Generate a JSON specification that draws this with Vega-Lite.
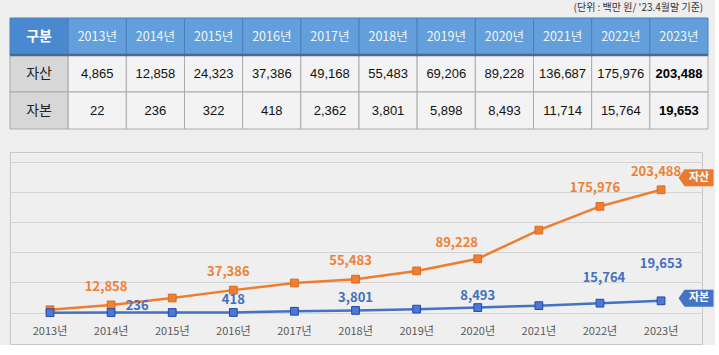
{
  "$schema": "https://vega.github.io/schema/vega-lite/v6.json",
  "background": "#eeeeee",
  "padding": {"left": 8, "top": 2, "right": 0, "bottom": 0},
  "autosize": {"type": "pad"},
  "spacing": 21,
  "config": {"view": {"stroke": null}, "font": "Noto Sans CJK KR"},
  "datasets": {
    "d": [
      {"year": 2013, "yearLabel": "2013년", "series": "자산", "value": 4865},
      {"year": 2014, "yearLabel": "2014년", "series": "자산", "value": 12858},
      {"year": 2015, "yearLabel": "2015년", "series": "자산", "value": 24323},
      {"year": 2016, "yearLabel": "2016년", "series": "자산", "value": 37386},
      {"year": 2017, "yearLabel": "2017년", "series": "자산", "value": 49168},
      {"year": 2018, "yearLabel": "2018년", "series": "자산", "value": 55483},
      {"year": 2019, "yearLabel": "2019년", "series": "자산", "value": 69206},
      {"year": 2020, "yearLabel": "2020년", "series": "자산", "value": 89228},
      {"year": 2021, "yearLabel": "2021년", "series": "자산", "value": 136687},
      {"year": 2022, "yearLabel": "2022년", "series": "자산", "value": 175976},
      {"year": 2023, "yearLabel": "2023년", "series": "자산", "value": 203488},
      {"year": 2013, "yearLabel": "2013년", "series": "자본", "value": 22},
      {"year": 2014, "yearLabel": "2014년", "series": "자본", "value": 236},
      {"year": 2015, "yearLabel": "2015년", "series": "자본", "value": 322},
      {"year": 2016, "yearLabel": "2016년", "series": "자본", "value": 418},
      {"year": 2017, "yearLabel": "2017년", "series": "자본", "value": 2362},
      {"year": 2018, "yearLabel": "2018년", "series": "자본", "value": 3801},
      {"year": 2019, "yearLabel": "2019년", "series": "자본", "value": 5898},
      {"year": 2020, "yearLabel": "2020년", "series": "자본", "value": 8493},
      {"year": 2021, "yearLabel": "2021년", "series": "자본", "value": 11714},
      {"year": 2022, "yearLabel": "2022년", "series": "자본", "value": 15764},
      {"year": 2023, "yearLabel": "2023년", "series": "자본", "value": 19653}
    ],
    "cols": [
      {"yearLabel": "구분"}, {"yearLabel": "2013년"}, {"yearLabel": "2014년"}, {"yearLabel": "2015년"},
      {"yearLabel": "2016년"}, {"yearLabel": "2017년"}, {"yearLabel": "2018년"}, {"yearLabel": "2019년"},
      {"yearLabel": "2020년"}, {"yearLabel": "2021년"}, {"yearLabel": "2022년"}, {"yearLabel": "2023년"}
    ],
    "rows": [{"series": "자산"}, {"series": "자본"}]
  },
  "vconcat": [
    {
      "width": 698,
      "height": 111,
      "title": {"text": "(단위 : 백만 원/ '23.4월말 기준)", "anchor": "end", "fontSize": 10, "fontWeight": "normal", "color": "#333333", "dx": -6, "offset": 5, "font": "Noto Sans CJK KR"},
      "layer": [
        {
          "data": {"name": "cols"},
          "mark": {"type": "rect", "stroke": "#4a7fbd", "strokeWidth": 1},
          "encoding": {
            "x": {"field": "yearLabel", "type": "nominal", "axis": null, "scale": {"domain": ["구분","2013년","2014년","2015년","2016년","2017년","2018년","2019년","2020년","2021년","2022년","2023년"], "paddingInner": 0, "paddingOuter": 0}},
            "y": {"datum": "구분", "type": "nominal", "axis": null, "scale": {"domain": ["구분","자산","자본"], "paddingInner": 0, "paddingOuter": 0}},
            "fill": {"condition": {"test": "datum.yearLabel === '구분'", "value": "#4a89cf"}, "value": "#63a0db"}
          }
        },
        {
          "data": {"name": "rows"},
          "mark": {"type": "rect", "fill": "#d7d7d7", "stroke": "#ababab", "strokeWidth": 1},
          "encoding": {
            "x": {"datum": "구분", "type": "nominal", "axis": null, "scale": {"domain": ["구분","2013년","2014년","2015년","2016년","2017년","2018년","2019년","2020년","2021년","2022년","2023년"], "paddingInner": 0, "paddingOuter": 0}},
            "y": {"field": "series", "type": "nominal", "axis": null, "scale": {"domain": ["구분","자산","자본"], "paddingInner": 0, "paddingOuter": 0}}
          }
        },
        {
          "data": {"name": "d"},
          "mark": {"type": "rect", "fill": "#f3f3f3", "stroke": "#ababab", "strokeWidth": 1},
          "encoding": {
            "x": {"field": "yearLabel", "type": "nominal", "axis": null, "scale": {"domain": ["구분","2013년","2014년","2015년","2016년","2017년","2018년","2019년","2020년","2021년","2022년","2023년"], "paddingInner": 0, "paddingOuter": 0}},
            "y": {"field": "series", "type": "nominal", "axis": null, "scale": {"domain": ["구분","자산","자본"], "paddingInner": 0, "paddingOuter": 0}}
          }
        },
        {
          "data": {"values": [{}]},
          "mark": {"type": "rule", "color": "#4a6a8e", "strokeWidth": 2.5},
          "encoding": {
            "y": {"datum": "자산", "type": "nominal", "bandPosition": 0, "axis": null, "scale": {"domain": ["구분","자산","자본"], "paddingInner": 0, "paddingOuter": 0}}
          }
        },
        {
          "data": {"name": "cols"},
          "transform": [{"filter": "datum.yearLabel === '구분'"}],
          "mark": {"type": "text", "color": "#ffffff", "fontSize": 14, "fontWeight": "bold", "font": "Noto Sans CJK KR"},
          "encoding": {
            "x": {"field": "yearLabel", "type": "nominal", "axis": null, "scale": {"domain": ["구분","2013년","2014년","2015년","2016년","2017년","2018년","2019년","2020년","2021년","2022년","2023년"], "paddingInner": 0, "paddingOuter": 0}},
            "y": {"datum": "구분", "type": "nominal", "axis": null, "scale": {"domain": ["구분","자산","자본"], "paddingInner": 0, "paddingOuter": 0}},
            "text": {"field": "yearLabel"}
          }
        },
        {
          "data": {"name": "cols"},
          "transform": [{"filter": "datum.yearLabel !== '구분'"}],
          "mark": {"type": "text", "color": "#eef4fb", "fontSize": 12.5, "font": "Noto Sans CJK KR"},
          "encoding": {
            "x": {"field": "yearLabel", "type": "nominal", "axis": null, "scale": {"domain": ["구분","2013년","2014년","2015년","2016년","2017년","2018년","2019년","2020년","2021년","2022년","2023년"], "paddingInner": 0, "paddingOuter": 0}},
            "y": {"datum": "구분", "type": "nominal", "axis": null, "scale": {"domain": ["구분","자산","자본"], "paddingInner": 0, "paddingOuter": 0}},
            "text": {"field": "yearLabel"}
          }
        },
        {
          "data": {"name": "rows"},
          "mark": {"type": "text", "color": "#222222", "fontSize": 14, "font": "Noto Sans CJK KR"},
          "encoding": {
            "x": {"datum": "구분", "type": "nominal", "axis": null, "scale": {"domain": ["구분","2013년","2014년","2015년","2016년","2017년","2018년","2019년","2020년","2021년","2022년","2023년"], "paddingInner": 0, "paddingOuter": 0}},
            "y": {"field": "series", "type": "nominal", "axis": null, "scale": {"domain": ["구분","자산","자본"], "paddingInner": 0, "paddingOuter": 0}},
            "text": {"field": "series"}
          }
        },
        {
          "data": {"name": "d"},
          "transform": [{"filter": "datum.year < 2023"}],
          "mark": {"type": "text", "color": "#111111", "fontSize": 13, "font": "Liberation Sans"},
          "encoding": {
            "x": {"field": "yearLabel", "type": "nominal", "axis": null, "scale": {"domain": ["구분","2013년","2014년","2015년","2016년","2017년","2018년","2019년","2020년","2021년","2022년","2023년"], "paddingInner": 0, "paddingOuter": 0}},
            "y": {"field": "series", "type": "nominal", "axis": null, "scale": {"domain": ["구분","자산","자본"], "paddingInner": 0, "paddingOuter": 0}},
            "text": {"field": "value", "type": "quantitative", "format": ","}
          }
        },
        {
          "data": {"name": "d"},
          "transform": [{"filter": "datum.year === 2023"}],
          "mark": {"type": "text", "color": "#000000", "fontSize": 13, "fontWeight": "bold", "font": "Liberation Sans"},
          "encoding": {
            "x": {"field": "yearLabel", "type": "nominal", "axis": null, "scale": {"domain": ["구분","2013년","2014년","2015년","2016년","2017년","2018년","2019년","2020년","2021년","2022년","2023년"], "paddingInner": 0, "paddingOuter": 0}},
            "y": {"field": "series", "type": "nominal", "axis": null, "scale": {"domain": ["구분","자산","자본"], "paddingInner": 0, "paddingOuter": 0}},
            "text": {"field": "value", "type": "quantitative", "format": ","}
          }
        }
      ]
    },
    {
      "width": 692,
      "height": 192,
      "view": {"stroke": "#c8c8c8", "strokeWidth": 1, "fill": "#efefef"},
      "data": {"name": "d"},
      "encoding": {
        "x": {"field": "year", "type": "quantitative", "scale": {"domain": [2012.345, 2023.67], "nice": false, "zero": false}, "axis": null},
        "y": {"field": "value", "type": "quantitative", "scale": {"domain": [-51800, 266000], "nice": false, "zero": false},
          "axis": {"values": [0, 50000, 100000, 150000, 200000, 250000], "grid": true, "gridColor": "#d4d4d4", "gridWidth": 1, "labels": false, "ticks": false, "domain": false, "title": null}}
      },
      "layer": [
        {
          "transform": [{"filter": "datum.series === '자산'"}],
          "mark": {"type": "text", "color": "#595959", "fontSize": 11, "font": "Noto Sans CJK KR"},
          "encoding": {
            "y": {"datum": -32000, "type": "quantitative"},
            "text": {"field": "yearLabel"}
          }
        },
        {
          "mark": {"type": "line", "strokeWidth": 2.5},
          "encoding": {
            "color": {"field": "series", "type": "nominal", "scale": {"domain": ["자산", "자본"], "range": ["#ed7d31", "#4472c4"]}, "legend": null}
          }
        },
        {
          "mark": {"type": "point", "shape": "square", "filled": true, "size": 60, "strokeWidth": 1, "opacity": 1},
          "encoding": {
            "fill": {"field": "series", "type": "nominal", "scale": {"domain": ["자산", "자본"], "range": ["#ee7f33", "#4d79d6"]}, "legend": null},
            "stroke": {"field": "series", "type": "nominal", "scale": {"domain": ["자산", "자본"], "range": ["#d96a1e", "#2447a3"]}, "legend": null}
          }
        },
        {
          "transform": [{"filter": "datum.series === '자산' && (datum.year === 2014 || datum.year === 2016 || datum.year === 2018 || datum.year === 2022 || datum.year === 2023)"}],
          "mark": {"type": "text", "color": "#ee8036", "fontSize": 13, "fontWeight": "bold", "dx": -5, "dy": -18},
          "encoding": {"text": {"field": "value", "type": "quantitative", "format": ","}}
        },
        {
          "transform": [{"filter": "datum.series === '자산' && datum.year === 2020"}],
          "mark": {"type": "text", "color": "#ee8036", "fontSize": 13, "fontWeight": "bold", "dx": -21, "dy": -16},
          "encoding": {"text": {"field": "value", "type": "quantitative", "format": ","}}
        },
        {
          "transform": [{"filter": "datum.series === '자본' && (datum.year === 2016 || datum.year === 2018 || datum.year === 2020)"}],
          "mark": {"type": "text", "color": "#4170c0", "fontSize": 13, "fontWeight": "bold", "dy": -12},
          "encoding": {"text": {"field": "value", "type": "quantitative", "format": ","}}
        },
        {
          "transform": [{"filter": "datum.series === '자본' && datum.year === 2014"}],
          "mark": {"type": "text", "color": "#4170c0", "fontSize": 13, "fontWeight": "bold", "dx": 26, "dy": -7},
          "encoding": {"text": {"field": "value", "type": "quantitative", "format": ","}}
        },
        {
          "transform": [{"filter": "datum.series === '자본' && datum.year === 2022"}],
          "mark": {"type": "text", "color": "#4170c0", "fontSize": 13, "fontWeight": "bold", "dx": 4, "dy": -25},
          "encoding": {"text": {"field": "value", "type": "quantitative", "format": ","}}
        },
        {
          "transform": [{"filter": "datum.series === '자본' && datum.year === 2023"}],
          "mark": {"type": "text", "color": "#4170c0", "fontSize": 13, "fontWeight": "bold", "dy": -37},
          "encoding": {"text": {"field": "value", "type": "quantitative", "format": ","}}
        },
        {
          "transform": [{"filter": "datum.series === '자산' && datum.year === 2023"}],
          "mark": {"type": "point", "shape": "M -1 0 L -0.66 -0.486 L 1 -0.486 L 1 0.486 L -0.66 0.486 Z", "size": 1225, "filled": true, "color": "#e97b2f", "opacity": 1, "xOffset": 35, "yOffset": -12}
        },
        {
          "transform": [{"filter": "datum.series === '자본' && datum.year === 2023"}],
          "mark": {"type": "point", "shape": "M -1 0 L -0.66 -0.486 L 1 -0.486 L 1 0.486 L -0.66 0.486 Z", "size": 1225, "filled": true, "color": "#4472c4", "opacity": 1, "xOffset": 35, "yOffset": -2.6}
        },
        {
          "transform": [{"filter": "datum.series === '자산' && datum.year === 2023"}],
          "mark": {"type": "text", "color": "#ffffff", "fontSize": 11, "fontWeight": "bold", "dx": 38, "dy": -12},
          "encoding": {"text": {"field": "series"}}
        },
        {
          "transform": [{"filter": "datum.series === '자본' && datum.year === 2023"}],
          "mark": {"type": "text", "color": "#ffffff", "fontSize": 11, "fontWeight": "bold", "dx": 38, "dy": -2.6},
          "encoding": {"text": {"field": "series"}}
        }
      ]
    }
  ]
}
